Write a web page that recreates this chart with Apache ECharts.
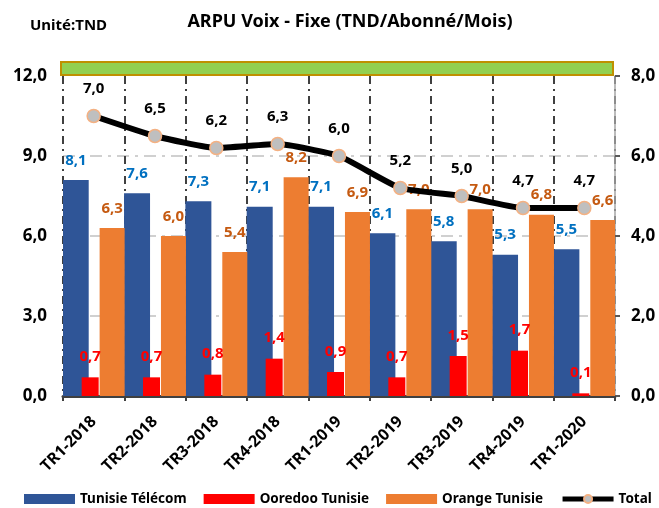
<!DOCTYPE html>
<html>
<head>
<meta charset="utf-8">
<script src="https://cdn.jsdelivr.net/npm/echarts@6/dist/echarts.min.js"></script>
<style>
  html, body { margin: 0; padding: 0; background: #fff; }
  #main { width: 659px; height: 508px; }
</style>
</head>
<body>
<div id="main"></div>
<script>
// données
const categories = ['TR1-2018', 'TR2-2018', 'TR3-2018', 'TR4-2018', 'TR1-2019', 'TR2-2019', 'TR3-2019', 'TR4-2019', 'TR1-2020'];
const tunisieTelecom = [8.1, 7.6, 7.3, 7.1, 7.1, 6.1, 5.8, 5.3, 5.5];
const ooredoo = [0.7, 0.7, 0.8, 1.4, 0.9, 0.7, 1.5, 1.7, 0.1];
const orange = [6.3, 6.0, 5.4, 8.2, 6.9, 7.0, 7.0, 6.8, 6.6];
const total = [7.0, 6.5, 6.2, 6.3, 6.0, 5.2, 5.0, 4.7, 4.7];
const leftTicks = { min: 0, max: 12, interval: 3 };
const rightTicks = { min: 0, max: 8, interval: 2 };

const FONT = 'Noto Sans';
const fmt = function (v) { return Number(v).toFixed(1).replace('.', ','); };

let myChart = echarts.init(document.getElementById('main'));

myChart.setOption({
  animation: false,
  textStyle: { fontFamily: FONT },
  title: [
    {
      text: 'ARPU Voix - Fixe (TND/Abonné/Mois)',
      left: 345, top: 8, textAlign: 'center',
      textStyle: { fontFamily: FONT, fontSize: 18, fontWeight: 'bold', color: '#000' }
    },
    {
      text: 'Unité:TND',
      left: 25, top: 13,
      textStyle: { fontFamily: FONT, fontSize: 15, fontWeight: 'bold', color: '#000' }
    }
  ],
  // bandeau vert au-dessus de la zone de tracé
  graphic: [{
    type: 'rect',
    shape: { x: 61, y: 62, width: 552, height: 13 },
    style: { fill: '#92d050', stroke: '#bf9000', lineWidth: 2 },
    z: 1
  }],
  grid: { left: 63, right: 44, top: 76, bottom: 112 },
  legend: {
    bottom: -3,
    left: 24,
    padding: [5, 0, 5, 0],
    itemWidth: 51,
    itemHeight: 10,
    itemGap: 17,
    data: [
      { name: 'Tunisie Télécom', icon: 'rect' },
      { name: 'Ooredoo Tunisie', icon: 'rect' },
      { name: 'Orange Tunisie', icon: 'rect' },
      { name: 'Total', lineStyle: { width: 5 } }
    ],
    textStyle: { fontFamily: FONT, fontSize: 13.5, fontWeight: 'bold', color: '#000' }
  },
  xAxis: [
    {
      type: 'category',
      data: categories,
      axisLine: { lineStyle: { color: '#404040', width: 3 } },
      axisTick: { show: true, length: 5, lineStyle: { color: '#404040', width: 2 } },
      axisLabel: {
        interval: 0, rotate: 45, margin: 23,
        fontFamily: FONT, fontSize: 16, fontWeight: 'bold', color: '#000'
      },
      splitLine: {
        show: true,
        lineStyle: { color: '#404040', width: 2, type: [8, 5, 2, 5] }
      }
    },
    {
      // axe caché pour placer les barres Ooredoo
      type: 'category',
      data: categories,
      show: false
    }
  ],
  yAxis: [
    {
      type: 'value',
      min: leftTicks.min, max: leftTicks.max, interval: leftTicks.interval,
      axisLine: { show: false },
      axisTick: { show: false },
      axisLabel: {
        formatter: fmt, margin: 16,
        fontFamily: FONT, fontSize: 17, fontWeight: 'bold', color: '#000'
      },
      splitLine: {
        show: true, showMaxLine: false, showMinLine: false,
        lineStyle: { color: '#d0d0d0', width: 2, type: [12, 6, 3, 6] }
      }
    },
    {
      type: 'value',
      min: rightTicks.min, max: rightTicks.max, interval: rightTicks.interval,
      position: 'right',
      axisLine: { show: true, lineStyle: { color: '#a6a6a6', width: 1.5 } },
      axisTick: { show: true, length: 5, lineStyle: { color: '#595959', width: 2 } },
      axisLabel: {
        formatter: fmt, margin: 16,
        fontFamily: FONT, fontSize: 17, fontWeight: 'bold', color: '#000'
      },
      splitLine: { show: false }
    }
  ],
  series: [
    {
      name: 'Tunisie Télécom',
      type: 'bar',
      data: tunisieTelecom,
      barWidth: 26,
      barGap: '42%',
      itemStyle: { color: '#2f5597' },
      label: {
        show: true, position: 'top', distance: 12, formatter: (p) => fmt(p.value),
        fontFamily: FONT, fontSize: 15, fontWeight: 'bold', color: '#0070c0'
      },
      z: 2
    },
    {
      name: 'Orange Tunisie',
      type: 'bar',
      data: orange,
      barWidth: 25,
      barGap: '42%',
      itemStyle: { color: '#ed7d31' },
      label: {
        show: true, position: 'top', distance: 12, formatter: (p) => fmt(p.value),
        fontFamily: FONT, fontSize: 15, fontWeight: 'bold', color: '#c55a11'
      },
      z: 2
    },
    {
      name: 'Ooredoo Tunisie',
      type: 'bar',
      xAxisIndex: 1,
      data: ooredoo,
      barWidth: 17,
      barGap: 0,
      itemStyle: { color: '#ff0000' },
      label: {
        show: true, position: 'top', distance: 13, formatter: (p) => fmt(p.value),
        fontFamily: FONT, fontSize: 15, fontWeight: 'bold', color: '#ff0000'
      },
      z: 3
    },
    {
      // espaceur pour décaler les barres Ooredoo vers la gauche
      name: 'spacer',
      type: 'bar',
      xAxisIndex: 1,
      data: [],
      barWidth: 7,
      barGap: 0,
      silent: true
    },
    {
      name: 'Total',
      type: 'line',
      yAxisIndex: 1,
      data: total,
      smooth: 0.15,
      symbol: 'circle',
      symbolSize: 13,
      lineStyle: { color: '#000', width: 6 },
      itemStyle: { color: '#bfbfbf', borderColor: '#f4b183', borderWidth: 1.5 },
      label: {
        show: true, position: 'top', distance: 13, formatter: (p) => fmt(p.value),
        fontFamily: FONT, fontSize: 15, fontWeight: 'bold', color: '#000'
      },
      z: 5
    }
  ]
});
window.addEventListener('resize', function () { myChart.resize(); });
</script>
</body>
</html>
